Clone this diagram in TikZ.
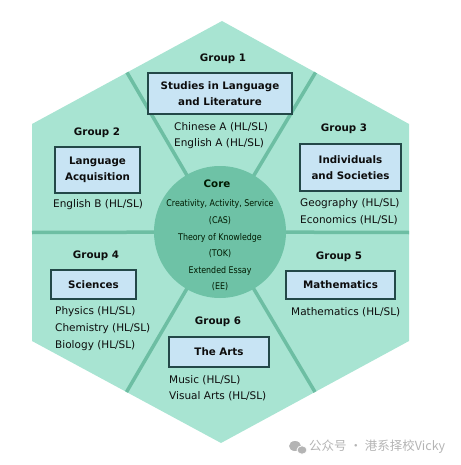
\documentclass[tikz,border=0pt]{standalone}
\usepackage{fontspec}
\setmainfont{DejaVu Sans}
\newfontfamily\corefont[FakeStretch=0.86]{DejaVu Sans}
\newfontfamily\cjk{Noto Sans CJK SC}
\usetikzlibrary{calc}

\definecolor{hexfill}{HTML}{A8E4D2}
\definecolor{corefill}{HTML}{6EC2A6}
\definecolor{divline}{HTML}{6DBEA3}
\definecolor{boxfill}{HTML}{C8E4F4}
\definecolor{boxline}{HTML}{234848}
\definecolor{marktext}{HTML}{B4B4B4}

\begin{document}
\begin{tikzpicture}[x=1pt,y=-1pt]

\tikzset{group/.style = {font=\bfseries\fontsize{10.3}{12}\selectfont, text=black!95}}
\tikzset{subject/.style = {draw=boxline, line width=1.3pt, fill=boxfill, align=center, inner sep=0pt, font=\bfseries\fontsize{10.3}{16}\selectfont, text=black!95}}
\tikzset{course/.style = {align=left, anchor=west, inner sep=0pt, font=\fontsize{10.5}{16.6}\selectfont, text=black!95}}
\tikzset{divider/.style = {draw=divline, line width=3.5pt}}

\useasboundingbox (0,0) rectangle (460,465);

%hexagon
\coordinate (top) at (222,21);
\coordinate (ur) at (409,124);
\coordinate (lr) at (409,341);
\coordinate (bot) at (221,443);
\coordinate (ll) at (32,341);
\coordinate (ul) at (32,124);
\coordinate (c) at (220,232);
\fill[hexfill] (top) -- (ur) -- (lr) -- (bot) -- (ll) -- (ul) -- cycle;

%dividers
\draw[divider] (c) -- ($(top)!0.5!(ul)$);
\draw[divider] (c) -- ($(top)!0.5!(ur)$);
\draw[divider] (c) -- ($(ur)!0.5!(lr)$);
\draw[divider] (c) -- ($(lr)!0.5!(bot)$);
\draw[divider] (c) -- ($(bot)!0.5!(ll)$);
\draw[divider] (c) -- ($(ll)!0.5!(ul)$);

%core
\node[circle, fill=corefill, minimum size=132pt, inner sep=0pt] (core) at (c) {};
\node[group, text=black!90!green] (coretitle) at (217,184) {Core};
\node[align=center, inner sep=0pt, font=\corefont\fontsize{9.2}{16.6}\selectfont, text=black!90!green] (corelist) at (220,245.5)
  {Creativity, Activity, Service\\(CAS)\\Theory of Knowledge\\(TOK)\\Extended Essay\\(EE)};

%group 1
\node[group] (g1) at (223,59) {Group 1};
\node[subject, minimum width=144pt, minimum height=41pt] (s1) at (220,93.5) {Studies in Language\\and Literature};
\node[course] (c1) at (174,135.5) {Chinese A (HL/SL)\\English A (HL/SL)};

%group 2
\node[group] (g2) at (97,133) {Group 2};
\node[subject, minimum width=85pt, minimum height=46pt] (s2) at (97.5,170) {Language\\Acquisition};
\node[course] (c2) at (53,205) {English B (HL/SL)};

%group 3
\node[group] (g3) at (344,129) {Group 3};
\node[subject, minimum width=101pt, minimum height=47pt] (s3) at (350.5,167.5) {Individuals\\and Societies};
\node[course] (c3) at (300,211.5) {Geography (HL/SL)\\Economics (HL/SL)};

%group 4
\node[group] (g4) at (96,256) {Group 4};
\node[subject, minimum width=85pt, minimum height=29pt] (s4) at (93.5,284.5) {Sciences};
\node[course] (c4) at (55,328.5) {Physics (HL/SL)\\Chemistry (HL/SL)\\Biology (HL/SL)};

%group 5
\node[group] (g5) at (339,257) {Group 5};
\node[subject, minimum width=109pt, minimum height=28pt] (s5) at (340.5,285) {Mathematics};
\node[course] (c5) at (291,312) {Mathematics (HL/SL)};

%group 6
\node[group] (g6) at (218,322) {Group 6};
\node[subject, minimum width=100pt, minimum height=30pt] (s6) at (219,352) {The Arts};
\node[course] (c6) at (169,388) {Music (HL/SL)\\Visual Arts (HL/SL)};

%watermark
\fill[marktext] (295,446) ellipse (6pt and 5pt);
\fill[marktext, draw=white, line width=0.8pt] (302,450) ellipse (5pt and 4.2pt);
\node[anchor=west, inner sep=0pt, text=marktext, font=\cjk\fontsize{12.5}{14}\selectfont] (mark) at (309,447) {公众号 · 港系择校Vicky};
\end{tikzpicture}
\end{document}
